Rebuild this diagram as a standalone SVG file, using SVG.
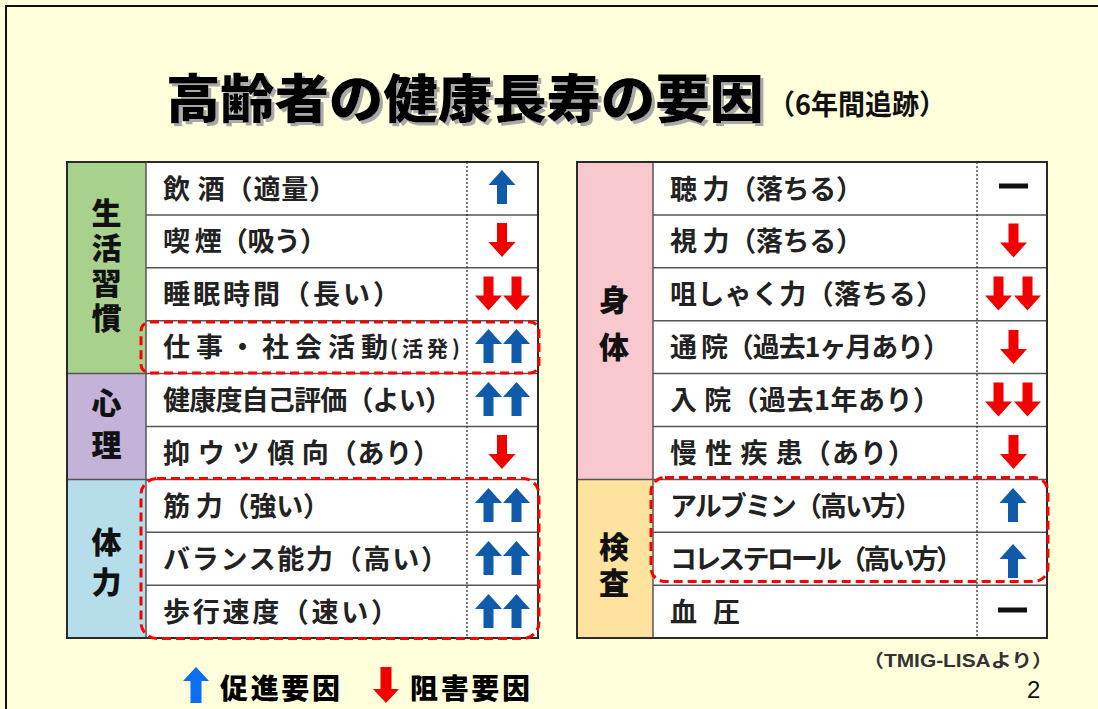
<svg xmlns="http://www.w3.org/2000/svg" width="1098" height="709" viewBox="0 0 1098 709">
<style>
.bg{fill:#FFFFDC}
.frame{fill:none;stroke:#111;stroke-width:2}
.cell{fill:#fff}
.outer{fill:none;stroke:#2a2a2a;stroke-width:2}
.hl{stroke:#555;stroke-width:1.5}
.dot{stroke:#222;stroke-width:1.2;stroke-dasharray:2 2}
.lbl{font-family:"Noto Sans CJK JP","Noto Sans CJK SC",sans-serif;font-size:27px;font-weight:700;fill:#222}
.cat{font-family:"Noto Sans CJK JP","Noto Sans CJK SC",sans-serif;font-size:30px;font-weight:900;fill:#111;text-anchor:middle;writing-mode:vertical-rl}
.title{font-family:"Noto Sans CJK JP","Noto Sans CJK SC",sans-serif;font-size:52px;font-weight:900;fill:#000}
.sub{font-family:"Noto Sans CJK JP","Noto Sans CJK SC",sans-serif;font-size:28px;font-weight:700;fill:#111}
.leg{font-family:"Noto Sans CJK JP","Noto Sans CJK SC",sans-serif;font-size:28px;font-weight:900;fill:#000}
.src{font-family:"Liberation Sans","Noto Sans CJK JP",sans-serif;font-size:18px;font-weight:700;fill:#333}
.pg{font-family:"Liberation Sans",Arial,sans-serif;font-size:24px;fill:#111}
.blue{fill:#0F5AAA}
.red{fill:#F20000}
.dash{fill:#111}
.hilite{fill:none;stroke:#F00;stroke-width:3;stroke-dasharray:9 5}
</style>
<defs>
<path id="up" d="M0,-17 L13.5,-2 L5,-2 L5,17 L-5,17 L-5,-2 L-13.5,-2 Z"/>
<path id="dn" d="M0,17 L13.5,2 L5,2 L5,-17 L-5,-17 L-5,2 L-13.5,2 Z"/>
<path id="upL" d="M0,-18 L13,-4 L5.5,-4 L5.5,18 L-5.5,18 L-5.5,-4 L-13,-4 Z"/>
<path id="dnL" d="M0,18 L13,4 L5.5,4 L5.5,-18 L-5.5,-18 L-5.5,4 L-13,4 Z"/>
<filter id="shadow" x="-5%" y="-20%" width="110%" height="140%">
<feOffset in="SourceAlpha" dx="2.5" dy="2.5" result="o"/>
<feFlood flood-color="#a8a8a8"/>
<feComposite in2="o" operator="in" result="s"/>
<feMerge><feMergeNode in="s"/><feMergeNode in="SourceGraphic"/></feMerge>
</filter>
</defs>
<rect class="bg" x="0" y="0" width="1098" height="709"/>
<rect class="frame" x="6" y="6" width="1110" height="720"/>

<g id="title">
<text class="title" x="166" y="118" textLength="598" lengthAdjust="spacingAndGlyphs" filter="url(#shadow)">高齢者の健康長寿の要因</text>
<text class="sub" x="768" y="115" textLength="178" lengthAdjust="spacingAndGlyphs">（6年間追跡）</text>
</g>

<!-- LEFT TABLE -->
<g id="left-table">
<rect class="cell" x="67" y="162" width="471" height="476"/>
<rect x="67" y="162" width="79" height="211.6" fill="#A9D18E"/>
<rect x="67" y="373.6" width="79" height="105.8" fill="#C4B3D8"/>
<rect x="67" y="479.4" width="79" height="158.7" fill="#B5DDEA"/>
<line class="hl" x1="146" y1="214.9" x2="538" y2="214.9"/>
<line class="hl" x1="146" y1="267.8" x2="538" y2="267.8"/>
<line class="hl" x1="146" y1="320.7" x2="538" y2="320.7"/>
<line class="hl" x1="67" y1="373.6" x2="538" y2="373.6"/>
<line class="hl" x1="146" y1="426.5" x2="538" y2="426.5"/>
<line class="hl" x1="67" y1="479.4" x2="538" y2="479.4"/>
<line class="hl" x1="146" y1="532.3" x2="538" y2="532.3"/>
<line class="hl" x1="146" y1="585.2" x2="538" y2="585.2"/>
<line class="hl" x1="146" y1="162" x2="146" y2="638"/>
<line class="dot" x1="467" y1="162" x2="467" y2="638"/>
<rect class="outer" x="67" y="162" width="471" height="476"/>
</g>

<g id="cat-seikatsu"><text class="cat" x="106.5" y="267.5" style="letter-spacing:5px">生活習慣</text></g>
<g id="cat-shinri"><text class="cat" x="106.5" y="430" style="letter-spacing:12px">心理</text></g>
<g id="cat-tairyoku"><text class="cat" x="106.5" y="567" style="letter-spacing:10px">体力</text></g>

<g id="row-inshu"><text class="lbl" x="163" y="198.5" textLength="173" lengthAdjust="spacing">飲 酒（適量）</text><use href="#up" x="502" y="187" class="blue"/></g>
<g id="row-kitsuen"><text class="lbl" x="163" y="251.4" textLength="164" lengthAdjust="spacing">喫 煙（吸う）</text><use href="#dn" x="502" y="240" class="red"/></g>
<g id="row-suimin"><text class="lbl" x="163" y="304.3" textLength="237" lengthAdjust="spacing">睡眠時間（長い）</text><use href="#dn" x="488.5" y="293.5" class="red"/><use href="#dn" x="516.5" y="293.5" class="red"/></g>
<g id="row-shigoto"><text class="lbl" x="163" y="357.2" textLength="225" lengthAdjust="spacing">仕事・社会活動</text><text class="lbl" x="390" y="356" style="font-size:21px" textLength="70" lengthAdjust="spacing">(活発)</text><use href="#up" x="488.5" y="346" class="blue"/><use href="#up" x="516.5" y="346" class="blue"/></g>
<g id="row-kenkodo"><text class="lbl" x="163" y="410.1" textLength="289" lengthAdjust="spacing">健康度自己評価（よい）</text><use href="#up" x="488.5" y="399" class="blue"/><use href="#up" x="516.5" y="399" class="blue"/></g>
<g id="row-yokuutsu"><text class="lbl" x="163" y="463" textLength="277" lengthAdjust="spacing">抑 ウ ツ 傾 向（あり）</text><use href="#dn" x="502" y="452" class="red"/></g>
<g id="row-kinryoku"><text class="lbl" x="163" y="515.9" textLength="167" lengthAdjust="spacing">筋 力（強い）</text><use href="#up" x="488.5" y="505" class="blue"/><use href="#up" x="516.5" y="505" class="blue"/></g>
<g id="row-balance"><text class="lbl" x="163" y="568.8" textLength="285" lengthAdjust="spacing">バランス能力（高い）</text><use href="#up" x="488.5" y="558" class="blue"/><use href="#up" x="516.5" y="558" class="blue"/></g>
<g id="row-hoko"><text class="lbl" x="163" y="621.7" textLength="235" lengthAdjust="spacing">歩行速度（速い）</text><use href="#up" x="488.5" y="611" class="blue"/><use href="#up" x="516.5" y="611" class="blue"/></g>

<!-- RIGHT TABLE -->
<g id="right-table">
<rect class="cell" x="577" y="162" width="470" height="476"/>
<rect x="577" y="162" width="76" height="317.4" fill="#F7C8CD"/>
<rect x="577" y="479.4" width="76" height="158.7" fill="#FDE39D"/>
<line class="hl" x1="653" y1="214.9" x2="1047" y2="214.9"/>
<line class="hl" x1="653" y1="267.8" x2="1047" y2="267.8"/>
<line class="hl" x1="653" y1="320.7" x2="1047" y2="320.7"/>
<line class="hl" x1="653" y1="373.6" x2="1047" y2="373.6"/>
<line class="hl" x1="653" y1="426.5" x2="1047" y2="426.5"/>
<line class="hl" x1="577" y1="479.4" x2="1047" y2="479.4"/>
<line class="hl" x1="653" y1="532.3" x2="1047" y2="532.3"/>
<line class="hl" x1="653" y1="585.2" x2="1047" y2="585.2"/>
<line class="hl" x1="653" y1="162" x2="653" y2="638"/>
<line class="dot" x1="977" y1="162" x2="977" y2="638"/>
<rect class="outer" x="577" y="162" width="470" height="476"/>
</g>

<g id="cat-shintai"><text class="cat" x="614" y="332" style="letter-spacing:17px">身体</text></g>
<g id="cat-kensa"><text class="cat" x="614" y="567.5" style="letter-spacing:6px">検査</text></g>

<g id="row-choryoku"><text class="lbl" x="670" y="198.5" textLength="193" lengthAdjust="spacing">聴 力（落ちる）</text><rect class="dash" x="999" y="183.5" width="29" height="5"/></g>
<g id="row-shiryoku"><text class="lbl" x="670" y="251.4" textLength="193" lengthAdjust="spacing">視 力（落ちる）</text><use href="#dn" x="1013.5" y="240.5" class="red"/></g>
<g id="row-soshaku"><text class="lbl" x="670" y="304.3" textLength="273" lengthAdjust="spacing">咀しゃく力（落ちる）</text><use href="#dn" x="998.5" y="293.5" class="red"/><use href="#dn" x="1027.5" y="293.5" class="red"/></g>
<g id="row-tsuin"><text class="lbl" x="670" y="357.2" textLength="280" lengthAdjust="spacing">通 院（過去1ヶ月あり）</text><use href="#dn" x="1013.5" y="347" class="red"/></g>
<g id="row-nyuin"><text class="lbl" x="670" y="410.1" textLength="270" lengthAdjust="spacing">入 院（過去1年あり）</text><use href="#dn" x="998.5" y="399.5" class="red"/><use href="#dn" x="1027.5" y="399.5" class="red"/></g>
<g id="row-mansei"><text class="lbl" x="670" y="463" textLength="245" lengthAdjust="spacing">慢 性 疾 患（あり）</text><use href="#dn" x="1013.5" y="452" class="red"/></g>
<g id="row-albumin"><text class="lbl" x="670" y="515.9" textLength="252" lengthAdjust="spacing">アルブミン（高い方）</text><use href="#up" x="1013" y="505" class="blue"/></g>
<g id="row-chol"><text class="lbl" x="670" y="568.8" textLength="293" lengthAdjust="spacing">コレステロール（高い方）</text><use href="#up" x="1013" y="561" class="blue"/></g>
<g id="row-ketsuatsu"><text class="lbl" x="670" y="621.7" textLength="70" lengthAdjust="spacing">血 圧</text><rect class="dash" x="998" y="607.5" width="29" height="5"/></g>

<g id="highlights">
<rect class="hilite" x="141" y="322" width="398" height="51" rx="9"/>
<rect class="hilite" x="141" y="478.5" width="398" height="160" rx="16"/>
<rect class="hilite" x="651" y="477.5" width="397" height="104" rx="14"/>
</g>

<g id="legend">
<use href="#upL" x="196" y="685" fill="#0A6EF0"/>
<text class="leg" x="220" y="698.5" textLength="120" lengthAdjust="spacing">促進要因</text>
<use href="#dnL" x="386" y="685" fill="#F20000"/>
<text class="leg" x="410" y="698.5" textLength="120" lengthAdjust="spacing">阻害要因</text>
</g>

<g id="footer">
<text class="src" x="863" y="667" textLength="190" lengthAdjust="spacingAndGlyphs">（TMIG-LISAより）</text>
<text class="pg" x="1027" y="698">2</text>
</g>
</svg>
